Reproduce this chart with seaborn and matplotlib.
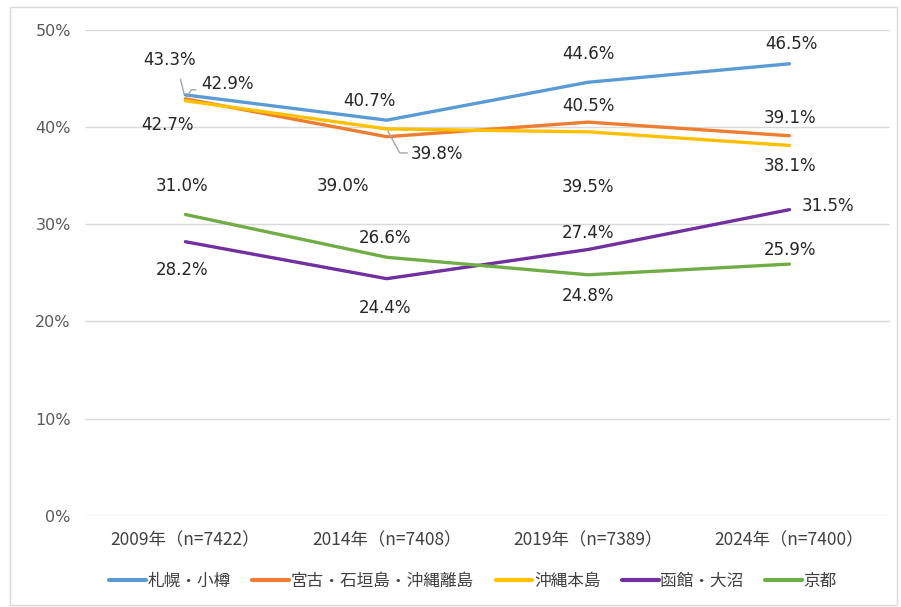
import pandas as pd
import seaborn as sns
import matplotlib.pyplot as plt
from matplotlib.patches import Rectangle

# data
years = ["2009年（n=7422）", "2014年（n=7408）", "2019年（n=7389）", "2024年（n=7400）"]
areas = ["札幌・小樽", "宮古・石垣島・沖縄離島", "沖縄本島", "函館・大沼", "京都"]
sapporo = [43.3, 40.7, 44.6, 46.5]
miyako = [42.9, 39.0, 40.5, 39.1]
okinawa = [42.7, 39.8, 39.5, 38.1]
hakodate = [28.2, 24.4, 27.4, 31.5]
kyoto = [31.0, 26.6, 24.8, 25.9]
colors = ["#5B9BD5", "#ED7D31", "#FFC000", "#7030A0", "#70AD47"]

series = [sapporo, miyako, okinawa, hakodate, kyoto]
rows = []
for name, vals in zip(areas, series):
    for i, v in enumerate(vals):
        rows.append({"year": i, "area": name, "value": v})
df = pd.DataFrame(rows)

sns.set_style("white")
plt.rcParams['font.family'] = ['DejaVu Sans', 'Noto Sans CJK JP']

fig = plt.figure(figsize=(9.01, 6.07), dpi=100)
ax = fig.add_axes([0.094, 0.150, 0.894, 0.801])

sns.lineplot(data=df, x="year", y="value", hue="area", hue_order=areas,
             palette=colors, linewidth=2.4, ax=ax, legend=False)

# label offsets in pixels (dx, dy) for each series / year
offsets = [
    [(-16, 35), (-17, 19), (0, 28), (2, 20)],
    [(42, 15), (-44, -49), (0, 16), (0, 18)],
    [(-18, -24), (50, -25), (0, -55), (0, -21)],
    [(-3, -28), (-2, -29), (0, 17), (38, 4)],
    [(-3, 29), (-2, 19), (0, -21), (0, 14)],
]
for vals, offs in zip(series, offsets):
    for i, (v, (dx, dy)) in enumerate(zip(vals, offs)):
        ax.annotate(f"{v:.1f}%", (i, v), xytext=(dx, dy), textcoords="offset pixels",
                    ha="center", va="center", fontsize=12, color="#262626")

# leader lines for crowded labels (pixel offsets from a data point)
px_x = 4 / 805
px_y = 50 / 486
lc = "#A6A6A6"


def leader(i, v, pts):
    xs = [i + dx * px_x for dx, dy in pts]
    ys = [v + dy * px_y for dx, dy in pts]
    ax.plot(xs, ys, color=lc, lw=1, solid_capstyle="butt")


leader(0, sapporo[0], [(-5, 16), (-1, 0)])
leader(0, miyako[0], [(0, 0), (6, 9), (11, 9)])
leader(1, okinawa[1], [(1, -2), (13, -24), (21, -24)])

ax.set_xlim(-0.5, 3.5)
ax.set_ylim(0, 50)
ax.set_yticks(range(0, 51, 10))
ax.set_yticklabels([f"{t}%" for t in range(0, 51, 10)], fontsize=11.5, color="#595959")
ax.set_xticks(range(4))
ax.set_xticklabels(years, fontsize=12.5, color="#404040", family=['Noto Sans CJK JP'])
ax.tick_params(axis="x", length=0, pad=11)
ax.tick_params(axis="y", length=0, pad=10)
ax.yaxis.grid(True, color="#D9D9D9", linewidth=1)
ax.set_axisbelow(True)
ax.set_xlabel("")
ax.set_ylabel("")
for s in ax.spines.values():
    s.set_visible(False)

handles = [plt.Line2D([], [], color=c, linewidth=3) for c in colors]
leg = fig.legend(handles, areas, loc="center", bbox_to_anchor=(0.525, 0.042), ncol=5,
                 frameon=False, handlelength=2.2, handletextpad=0.1, columnspacing=1.3,
                 prop={"family": "Noto Sans CJK JP", "size": 12})
for t in leg.get_texts():
    t.set_color("#404040")

fig.patches.append(Rectangle((0.011, 0.003), 0.985, 0.985, transform=fig.transFigure,
                             fill=False, edgecolor="#D9D9D9", linewidth=1))

fig.savefig("out.png", dpi=100)
